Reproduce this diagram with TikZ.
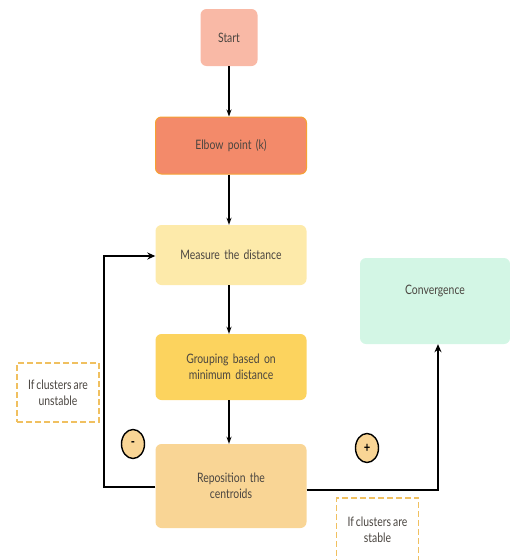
\documentclass[tikz,border=0pt]{standalone}
\usepackage{fontspec}
\setmainfont{Lato}[FakeStretch=0.8,WordSpace=0.75]
\usetikzlibrary{arrows.meta,positioning,shapes.geometric}
\definecolor{txt}{HTML}{4A4540}
\definecolor{cstart}{HTML}{F9B9A6}
\definecolor{celbow}{HTML}{F38A6A}
\definecolor{celbowb}{HTML}{F6A133}
\definecolor{cmeas}{HTML}{FDEAAA}
\definecolor{cgroup}{HTML}{FCD35E}
\definecolor{crepo}{HTML}{F9D595}
\definecolor{cconv}{HTML}{D3F6E5}
\definecolor{cdash}{HTML}{F0C060}
\definecolor{ccirc}{HTML}{F9D595}
\tikzset{
  x=1pt,y=1pt,
  box/.style={rounded corners=6pt, minimum width=151pt, text width=130pt, align=center, text=txt, font=\fontsize{13}{16}\selectfont, inner sep=0pt},
  note/.style={draw=cdash, dashed, line width=1.6pt, dash pattern=on 6pt off 3pt, fill=white, text=txt, align=center, font=\fontsize{13}{16}\selectfont, minimum width=82pt, inner sep=0pt},
  sign/.style={ellipse, draw=black, line width=1.4pt, fill=ccirc, minimum width=23pt, minimum height=29pt, inner sep=0pt, font=\bfseries\fontsize{14}{14}\selectfont},
  conn/.style={draw=black, line width=1.4pt, -{Stealth[length=7pt,width=5pt]}},
  connb/.style={draw=black, line width=2pt, -{Stealth[length=8pt,width=7pt]}}
}
\begin{document}
\begin{tikzpicture}
\useasboundingbox (0,0) rectangle (510,-560);
\node[box, fill=cstart, minimum width=57pt, text width=50pt, minimum height=57pt] (start) at (229,-37.5) {Start};
\node[box, fill=celbow, draw=celbowb, line width=1pt, minimum height=57pt] (elbow) at (231,-145.5) {Elbow point (k)};
\node[box, fill=cmeas, minimum height=60pt] (meas) at (231,-255) {Measure the distance};
\node[box, fill=cgroup, minimum height=66pt] (group) at (231,-367) {Grouping based on\\minimum distance};
\node[box, fill=crepo, minimum height=84pt] (repo) at (231,-486) {Reposition the\\centroids};
\node[box, fill=cconv, minimum width=150pt, minimum height=86pt] (conv) at (435,-301) {};
\node[text=txt, font=\fontsize{13}{16}\selectfont] (convt) at (435,-291) {Convergence};
\node[note, minimum height=59pt] (unst) at (58,-392.5) {If clusters are\\unstable};
\node[note, minimum height=63pt, anchor=north] (stab) at (377.5,-497) {If clusters are\\stable};
\node[sign] (minus) at (133,-444) {-};
\node[sign] (plus) at (367,-448) {+};
\coordinate (lc) at (104,-487);
\coordinate (lt) at (104,-256);
\coordinate (rc) at (438,-490);
\draw[conn] (start.south) -- (start.south |- elbow.north);
\draw[conn] (elbow.south -| start) -- (meas.north -| start);
\draw[conn] (meas.south -| start) -- (group.north -| start);
\draw[conn] (group.south -| start) -- (repo.north -| start);
\draw[connb] (repo.west |- lc) -- (lc) -- (lt) -- (meas.west |- lt);
\draw[connb] (repo.east |- rc) -- (rc) -- (conv.south -| rc);
\end{tikzpicture}
\end{document}
